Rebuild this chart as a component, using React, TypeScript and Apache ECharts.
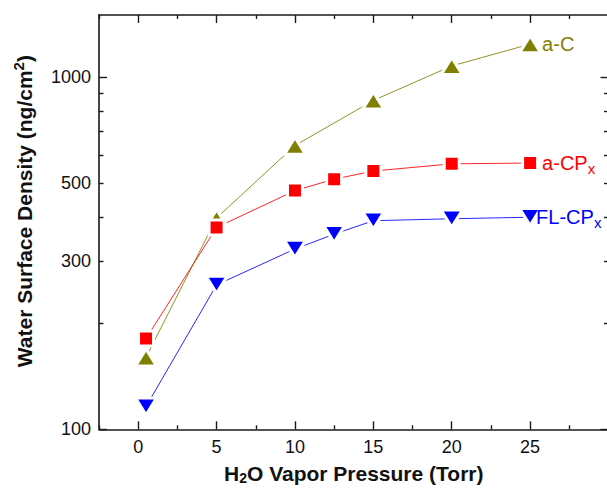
import React, { useEffect, useRef } from "react";
import * as echarts from "echarts";

// ---- data ----
const aC_x = [0.5, 5, 10, 15, 20, 25];
const aC_y = [160, 398, 639, 858, 1075, 1240];
const aCPx_x = [0.5, 5, 10, 12.5, 15, 20, 25];
const aCPx_y = [181, 374, 476, 513, 541, 567, 570];
const FLCPx_x = [0.5, 5, 10, 12.5, 15, 20, 25];
const FLCPx_y = [116, 257, 325, 358, 391, 396, 400];

const xMajorTicks = [0, 5, 10, 15, 20, 25, 30];
const xMinorTicks = [-2.5, 2.5, 7.5, 12.5, 17.5, 22.5, 27.5];
const xLabels = [0, 5, 10, 15, 20, 25];
const yMajorTicks = [100, 1000];
const yMinorTicks = [200, 300, 400, 500, 600, 700, 800, 900];
const yLabels = [100, 300, 500, 1000];
const X_MIN = -2.5;
const X_MAX = 30;
const Y_MIN = 100;
const Y_MAX = 1500;

const FONT = "'Liberation Sans', Arial, Helvetica, sans-serif";
const OLIVE = "#7f7f00";
const RED = "#ff0000";
const BLUE = "#0000ff";
const AXIS = "#1a1a1a";

const lg = (v: number) => Math.log10(v);

function pairs(xs: number[], ys: number[]) {
  return xs.map((x, i) => [x, lg(ys[i])]);
}

export default function App() {
  const ref = useRef<HTMLDivElement>(null);
  useEffect(() => {
    if (!ref.current) return;
    const chart = echarts.init(ref.current, undefined, { renderer: "svg" });

    const xBase = (position: "top" | "bottom", ticks: number[], len: number, line: boolean, labels: boolean) => ({
      type: "value",
      position,
      min: X_MIN,
      max: X_MAX,
      gridIndex: 0,
      axisLine: { show: line, onZero: false, lineStyle: { color: AXIS, width: 1.6 } },
      axisTick: { show: true, inside: true, length: len, customValues: ticks, lineStyle: { color: AXIS, width: 1.4 } },
      axisLabel: labels
        ? { show: true, customValues: xLabels, margin: 9, color: "#111", fontSize: 18, fontFamily: FONT, formatter: (v: number) => String(v) }
        : { show: false },
      splitLine: { show: false },
    });
    const yBase = (position: "left" | "right", ticks: number[], len: number, line: boolean, labels: boolean) => ({
      type: "value",
      position,
      min: lg(Y_MIN),
      max: lg(Y_MAX),
      gridIndex: 0,
      axisLine: { show: line, onZero: false, lineStyle: { color: AXIS, width: 1.6 } },
      axisTick: { show: true, inside: true, length: len, customValues: ticks.map(lg), lineStyle: { color: AXIS, width: 1.4 } },
      axisLabel: labels
        ? { show: true, customValues: yLabels.map(lg), margin: 8, color: "#111", fontSize: 18, fontFamily: FONT, formatter: (v: number) => String(Math.round(Math.pow(10, v))) }
        : { show: false },
      splitLine: { show: false },
    });

    const xAxes: any[] = [
      {
        ...xBase("bottom", xMajorTicks, 8, true, true),
        name: "{b|H}{sub|2}{b|O Vapor Pressure (Torr)}",
        nameLocation: "middle",
        nameGap: 33,
        nameTextStyle: {
          rich: {
            b: { fontSize: 21, fontWeight: "bold", fontFamily: FONT, color: "#111" },
            sub: { fontSize: 14, fontWeight: "bold", fontFamily: FONT, color: "#111", padding: [9, 0, 0, 0] },
          },
        },
      },
      xBase("bottom", xMinorTicks, 4, false, false),
      xBase("top", xMajorTicks, 8, true, false),
      xBase("top", xMinorTicks, 4, false, false),
    ];
    const yAxes: any[] = [
      {
        ...yBase("left", yMajorTicks, 8, true, true),
        name: "{b|Water Surface Density (ng/cm}{sup|2}{b|)}",
        nameLocation: "middle",
        nameGap: 62,
        nameTextStyle: {
          padding: [0, 0, 0, 22],
          rich: {
            b: { fontSize: 21, fontWeight: "bold", fontFamily: FONT, color: "#111" },
            sup: { fontSize: 15, fontWeight: "bold", fontFamily: FONT, color: "#111", padding: [0, 0, 11, 0] },
          },
        },
      },
      yBase("left", yMinorTicks, 4.5, false, false),
      yBase("right", yMajorTicks, 8, true, false),
      yBase("right", yMinorTicks, 4.5, false, false),
    ];

    const mk = (
      name: string,
      xs: number[],
      ys: number[],
      color: string,
      symbol: string,
      size: number | number[],
      rotate: number,
      labelFmt: string,
      dist: number
    ) => ({
      type: "line",
      name,
      xAxisIndex: 0,
      yAxisIndex: 0,
      data: pairs(xs, ys),
      symbol,
      symbolSize: size,
      symbolRotate: rotate,
      showAllSymbol: true,
      lineStyle: { color, width: 1, opacity: 0.85 },
      itemStyle: { color, borderColor: "#ffffff", borderWidth: 3 },
      endLabel: {
        show: true,
        formatter: labelFmt,
        distance: dist,
        color,
        fontSize: 20,
        fontFamily: FONT,
        rich: {
          m: { fontSize: 20, fontFamily: FONT, color },
          s: { fontSize: 15, fontFamily: FONT, color, padding: [11, 0, 0, 0] },
        },
      },
      z: 3,
    });

    chart.setOption({
      animation: false,
      backgroundColor: "#ffffff",
      grid: { left: 99, top: 15, width: 509.5, height: 414.3, containLabel: false, outerBoundsMode: "none" },
      xAxis: xAxes,
      yAxis: yAxes,
      series: [
        mk("a-C", aC_x, aC_y, OLIVE, "triangle", [21, 17], 0, "{m|a-C}", 12),
        mk("a-CPx", aCPx_x, aCPx_y, RED, "rect", 15, 0, "{m|a-CP}{s|x}", 12),
        mk("FL-CPx", FLCPx_x, FLCPx_y, BLUE, "triangle", [21, 17], 180, "{m|FL-CP}{s|x}", 6),
      ],
    });
    return () => chart.dispose();
  }, []);
  return (
    <div
      ref={ref}
      style={{ position: "fixed", left: 0, top: 0, width: 607, height: 490, background: "#fff" }}
    />
  );
}
